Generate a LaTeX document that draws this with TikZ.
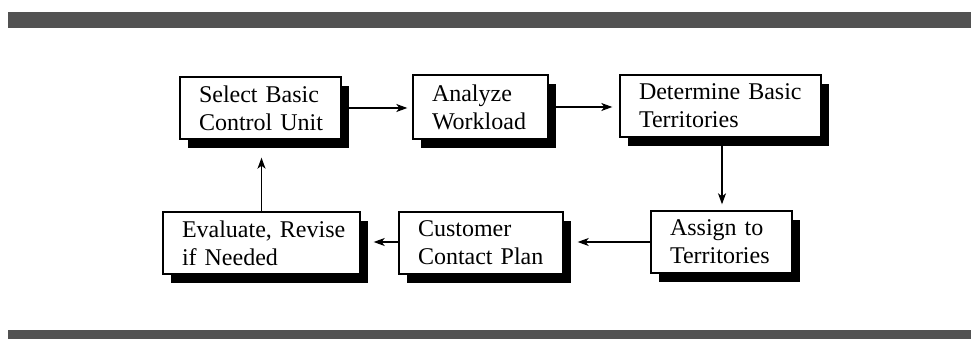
\documentclass[tikz,border=0pt]{standalone}
\usepackage{fontspec}
\setmainfont{Liberation Serif}
\usetikzlibrary{arrows.meta,shadows,calc}
\hbadness=10000 \hfuzz=30pt
\begin{document}
\begin{tikzpicture}[x=1pt,y=-1pt,
  band/.style={fill=black!68, draw=none},
  stepbox/.style={draw=black, line width=1.4pt, fill=white, rectangle,
    inner xsep=19pt, inner ysep=1pt, align=left,
    font=\fontsize{24}{28}\selectfont,
    execute at begin node={\hyphenpenalty=10000\exhyphenpenalty=10000},
    drop shadow={shadow xshift=8pt, shadow yshift=-9pt, opacity=1, fill=black}},
  arr/.style={line width=1.2pt, -{Stealth[length=11pt,width=8pt,inset=3pt]}}]
\useasboundingbox (0,0) rectangle (971,339);
\fill[white] (0,0) rectangle (971,339);
% bands
\path[band] (8,12) rectangle (971,28);
\path[band] (8,330) rectangle (971,339);
% boxes
\node[stepbox, text width=123pt, minimum height=62pt] (n1) at (260.5,108) {\mbox{Select Basic}\\\mbox{Control Unit}};
\node[stepbox, text width=97pt, minimum height=64pt] (n2) at (480.5,107) {Analyze\\Workload};
\node[stepbox, text width=163pt, minimum height=62pt] (n3) at (720.5,106) {\mbox{Determine Basic}\\Territories};
\node[stepbox, text width=103pt, minimum height=62pt] (n4) at (721.5,242) {\mbox{Assign to}\\Territories};
\node[stepbox, text width=126pt, minimum height=62pt] (n5) at (481,243) {Customer\\\mbox{Contact Plan}};
\node[stepbox, text width=159pt, minimum height=62pt] (n6) at (261.5,243) {\mbox{Evaluate, Revise}\\\mbox{if Needed}};
\coordinate (a3) at ($(n3.south)+(1.5,0)$);
\coordinate (a5) at ($(n5.west)+(0,-1)$);
% connectors
\draw[arr, shorten >=5pt] (n1.east) -- (n1.east -| n2.west);
\draw[arr, shorten >=7pt] (n2.east) -- (n2.east -| n3.west);
\draw[arr, shorten >=6pt] (a3) -- (a3 |- n4.north);
\draw[arr, shorten >=14pt] (n4.west) -- (n4.west -| n5.east);
\draw[arr, shorten >=13pt] (a5) -- (a5 -| n6.east);
\draw[arr, shorten >=18pt] (n6.north) -- (n6.north |- n1.south);
\end{tikzpicture}
\end{document}
